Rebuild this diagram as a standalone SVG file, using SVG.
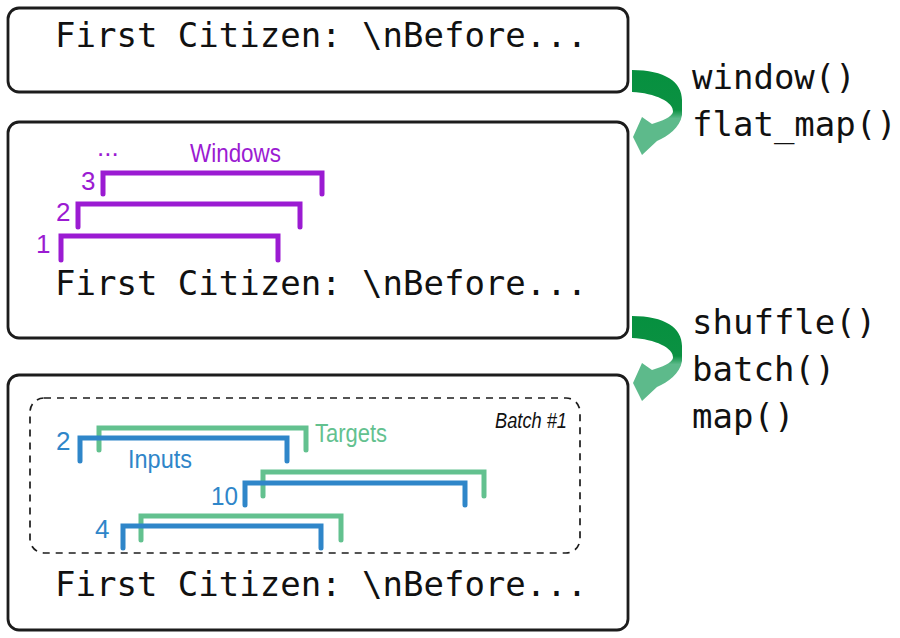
<svg xmlns="http://www.w3.org/2000/svg" width="900" height="638" viewBox="0 0 900 638">
<style>
.box{fill:#fff;stroke:#1c1c1c;stroke-width:2.8}
.mono{font-family:"DejaVu Sans Mono","Liberation Mono",monospace;font-size:34px;fill:#111}
.sans{font-family:"Liberation Sans","Noto Sans",sans-serif}
.pur{fill:none;stroke:#9b1bd2;stroke-width:5;stroke-linecap:round;stroke-linejoin:miter}
.blu{fill:none;stroke:#2f86c9;stroke-width:5;stroke-linecap:round;stroke-linejoin:miter}
.grn{fill:none;stroke:#63c18f;stroke-width:5;stroke-linecap:round;stroke-linejoin:miter}
.tp{fill:#9b1bd2;font-size:26px}
.tb{fill:#2f86c9;font-size:26px}
.tg{fill:#63c18f;font-size:26px}
</style>
<defs>
<linearGradient id="ag" gradientUnits="userSpaceOnUse" x1="0" y1="70" x2="0" y2="155">
<stop offset="0" stop-color="#06903f"/>
<stop offset="0.47" stop-color="#0b9142"/>
<stop offset="0.57" stop-color="#5dba8b"/>
<stop offset="1" stop-color="#5dba8b"/>
</linearGradient>
<path id="arrow" d="M632,70 C665,70 682,82 682,100 L682,115 C680,128 668,136 657,141 L642,155 L633,137 L642,117 L652,124 C662,121 672,117 673,112 C674,102 655,93 632,92 Z"/>
</defs>
<rect width="900" height="638" fill="#fff"/>
<g id="node-text1">
<rect class="box" x="8" y="8" width="620" height="84" rx="11"/>
<text class="mono" x="55" y="47">First Citizen: \nBefore...</text>
</g>
<g id="node-windows">
<rect class="box" x="8" y="122" width="620" height="216" rx="11"/>
<text class="mono" x="55" y="295">First Citizen: \nBefore...</text>
<path class="pur" d="M103,194 V173 H322 V194"/>
<path class="pur" d="M78,227 V204 H300 V227"/>
<path class="pur" d="M61,260 V236 H278 V260"/>
<text class="sans tp" x="81" y="190">3</text>
<text class="sans tp" x="56" y="221">2</text>
<text class="sans tp" x="36" y="253">1</text>
<text class="sans tp" x="97" y="156" font-size="22">...</text>
<text class="sans tp" x="190" y="162" font-size="24" textLength="91" lengthAdjust="spacingAndGlyphs">Windows</text>
</g>
<g id="node-batch">
<rect class="box" x="8" y="375" width="620" height="255" rx="11"/>
<text class="mono" x="55" y="596">First Citizen: \nBefore...</text>
<rect x="30" y="398" width="550" height="155" rx="14" fill="none" stroke="#1c1c1c" stroke-width="1.7" stroke-dasharray="7 6"/>
<text class="sans" x="495" y="428" font-size="22" font-style="italic" fill="#111" textLength="72" lengthAdjust="spacingAndGlyphs">Batch #1</text>
<path class="grn" d="M99,450 V428 H306 V450"/>
<path class="blu" d="M80,461 V438 H287 V461"/>
<path class="grn" d="M263,496 V472 H484 V496"/>
<path class="blu" d="M245,505 V483 H465 V505"/>
<path class="grn" d="M141,540 V516 H341 V540"/>
<path class="blu" d="M123,548 V526 H321 V548"/>
<text class="sans tb" x="56" y="450">2</text>
<text class="sans tb" x="211" y="505" textLength="27" lengthAdjust="spacingAndGlyphs">10</text>
<text class="sans tb" x="95" y="538">4</text>
<text class="sans tb" x="128" y="468" font-size="25" textLength="64" lengthAdjust="spacingAndGlyphs">Inputs</text>
<text class="sans tg" x="315" y="442" font-size="25" textLength="72" lengthAdjust="spacingAndGlyphs">Targets</text>
</g>
<g id="connectors">
<use href="#arrow" fill="url(#ag)"/>
<g transform="translate(0,246)"><use href="#arrow" fill="url(#ag)"/></g>
<text class="mono" x="692" y="89">window()</text>
<text class="mono" x="692" y="136">flat_map()</text>
<text class="mono" x="692" y="334">shuffle()</text>
<text class="mono" x="692" y="381">batch()</text>
<text class="mono" x="692" y="428">map()</text>
</g>
</svg>
